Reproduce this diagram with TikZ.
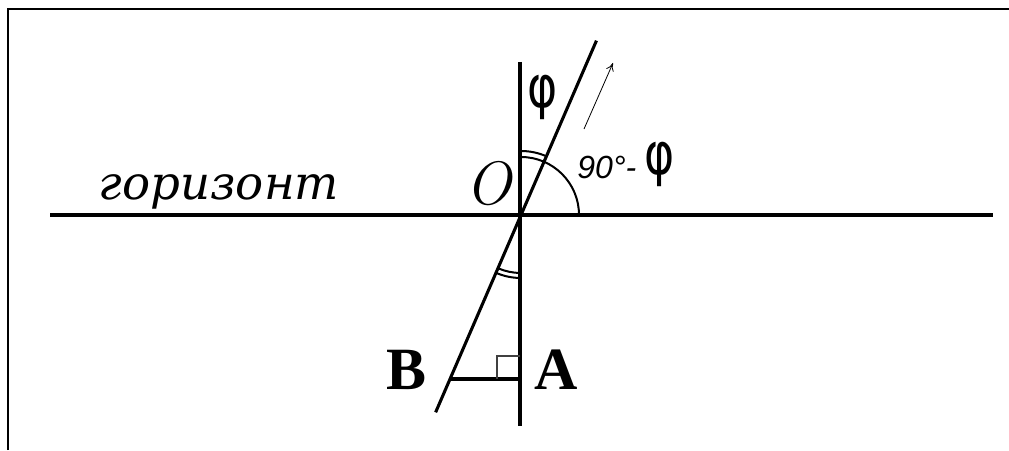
\documentclass[tikz,border=0pt]{standalone}
\usepackage{fontspec}
\newfontfamily\timesf{Liberation Serif}
\newfontfamily\cyrit{DejaVu Serif}
\newfontfamily\sansf{Liberation Sans}
\newfontfamily\phif{DejaVu Sans}
\usetikzlibrary{arrows.meta,calc}
\begin{document}
\begin{tikzpicture}[x=0.75pt,y=0.75pt,
  mainline/.style={line width=2.3pt,line cap=butt},
  arcline/.style={line width=1.5pt},
  frameline/.style={line width=1.5pt},
  thinline/.style={line width=0.6pt},
  lbl/.style={inner sep=0pt,anchor=center},
  philbl/.style={inner sep=0pt,anchor=center,xscale=0.78,transform shape,font=\fontsize{44}{44}\selectfont\phif}]
\useasboundingbox (0,0) rectangle (1009,450);
% frame
\coordinate (fl) at (8,0);
\coordinate (ftl) at (8,441);
\coordinate (fr) at (1009,441);
\draw[frameline] (fl) -- (ftl) -- (fr);
% key points
\coordinate (O) at (521,235);
\coordinate (hl) at (50,235);
\coordinate (hr) at (993,235);
\coordinate (vt) at (520,388);
\coordinate (vb) at (520,24);
\coordinate (it) at ($(O)+(66.6:190)$);
\coordinate (ib) at ($(O)+(246.6:215)$);
\coordinate (Bp) at (450,71);
\coordinate (Ap) at (520,71);
% lines
\draw[mainline] (hl) -- (hr);
\draw[mainline] (vt) -- (vb);
\draw[mainline] (it) -- (ib);
\draw[mainline] (Bp) -- (Ap);
% right angle mark
\draw[line width=1.1pt,black!75] (520,94) -- (497,94) -- (497,71);
% arcs
\draw[arcline] ($(O)+(0:58)$) arc[start angle=0,end angle=90,radius=58];
\draw[arcline] ($(O)+(66.6:64)$) arc[start angle=66.6,end angle=90,radius=64];
\draw[arcline] ($(O)+(246.6:58)$) arc[start angle=246.6,end angle=270,radius=58];
\draw[arcline] ($(O)+(246.6:63)$) arc[start angle=246.6,end angle=270,radius=63];
% small arrow
\coordinate (a1) at (584,321);
\coordinate (a2) at (613,387);
\draw[thinline,-{To[length=6pt,width=6pt]}] (a1) -- (a2);
% labels
\node[lbl,anchor=base] (hor) at (219,250) {\fontsize{35}{35}\selectfont\cyrit\itshape горизонт};
\node[lbl] (Olbl) at (488,266) {\fontsize{46}{46}\selectfont\itshape O};
\node[lbl] (Blbl) at (407,80) {\fontsize{45}{45}\selectfont\timesf\bfseries B};
\node[lbl] (Albl) at (556,80) {\fontsize{45}{45}\selectfont\timesf\bfseries A};
\node[lbl,anchor=base west] (ninety) at (577,271) {\fontsize{24}{24}\selectfont\sansf\itshape 90°-};
\node[philbl] (phi1) at (543,353) {φ};
\node[philbl] (phi2) at (660,286) {φ};
\end{tikzpicture}
\end{document}
